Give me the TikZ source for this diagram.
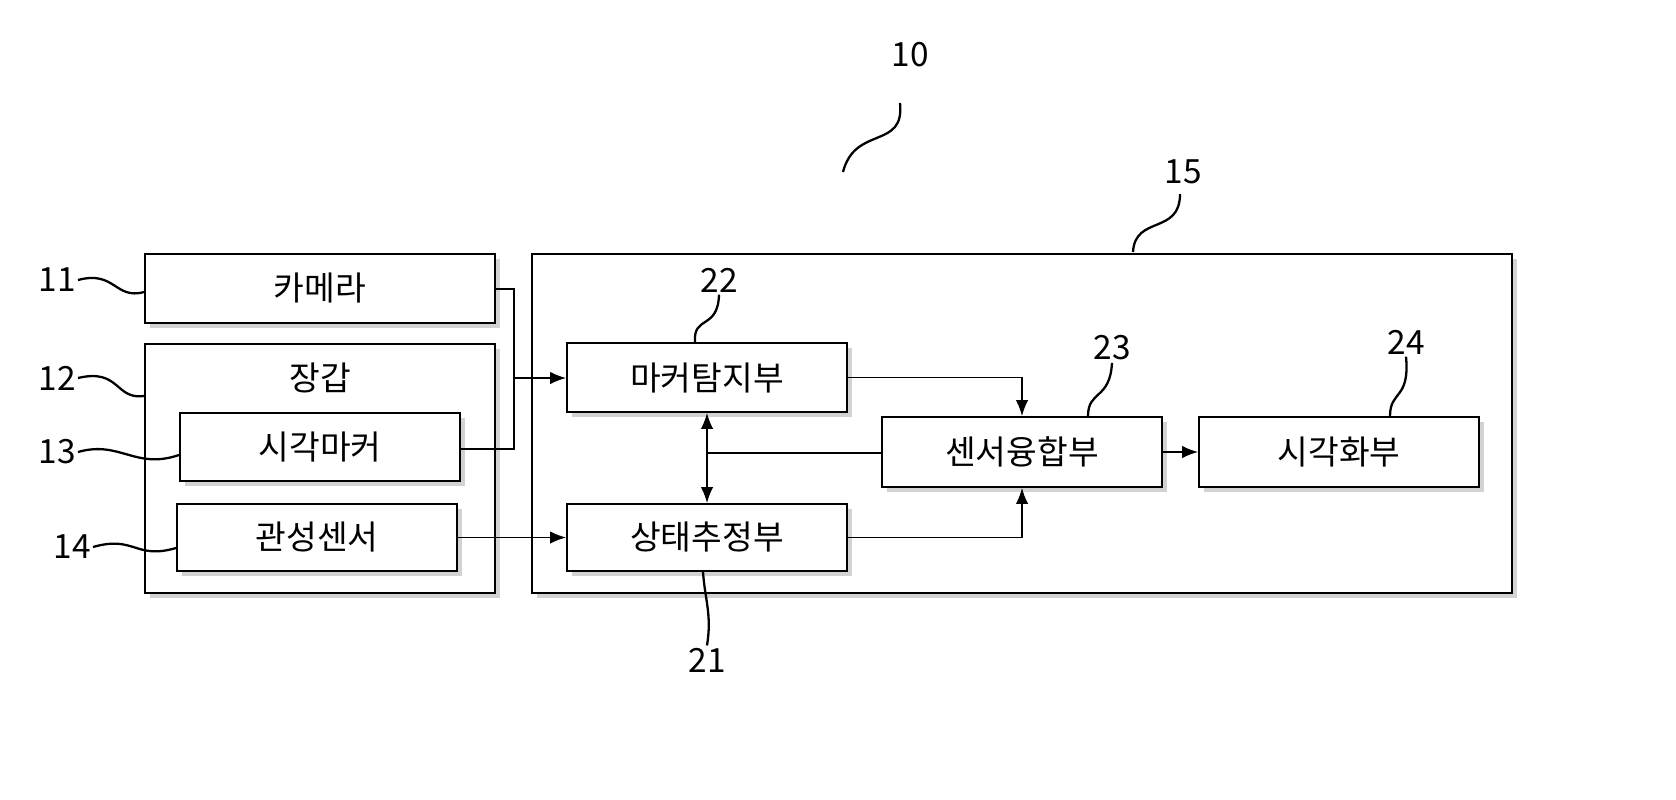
\documentclass[tikz,border=0pt]{standalone}
\usepackage{fontspec}
\setmainfont{Noto Sans CJK KR}
\usetikzlibrary{shadows,arrows.meta}

\begin{document}
\begin{tikzpicture}[x=0.02cm, y=-0.02cm, thick]
\tikzstyle{blockr}=[rectangle, draw=black, fill=white, line width=1.2pt, drop shadow={shadow xshift=3pt, shadow yshift=-3pt, opacity=0.35}, inner sep=0pt, font=\fontsize{19}{22}\selectfont]
\tikzstyle{numlabel}=[inner sep=1pt, font=\fontsize{19}{22}\selectfont]
\tikzstyle{drawstyle}=[line width=0.7pt, -{Latex[length=9pt,width=7pt]}]
\tikzstyle{linestyle}=[line width=0.7pt]
\tikzstyle{leader}=[line width=1.3pt]

\useasboundingbox (0,0) rectangle (1676,799);

% outer boxes
\node[blockr, minimum width=7cm, minimum height=4.98cm] (Glove) at (320,468.5) {};
\node[blockr, minimum width=19.6cm, minimum height=6.78cm] (Unit) at (1022,423.5) {};
\node[font=\fontsize{19}{22}\selectfont] (GloveT) at (320,378) {장갑};

% blocks
\node[blockr, minimum width=7cm, minimum height=1.38cm] (Cam) at (320,288.5) {카메라};
\node[blockr, minimum width=5.6cm, minimum height=1.36cm] (Marker) at (320,447) {시각마커};
\node[blockr, minimum width=5.6cm, minimum height=1.34cm] (Imu) at (317,537.5) {관성센서};
\node[blockr, minimum width=5.6cm, minimum height=1.38cm] (Detect) at (707,377.5) {마커탐지부};
\node[blockr, minimum width=5.6cm, minimum height=1.34cm] (Estim) at (707,537.5) {상태추정부};
\node[blockr, minimum width=5.6cm, minimum height=1.4cm] (Fusion) at (1022,452) {센서융합부};
\node[blockr, minimum width=5.6cm, minimum height=1.4cm] (Vis) at (1339,452) {시각화부};

% connectors
\coordinate (J1) at (514,289);
\coordinate (J2) at (514,449);
\coordinate (J3) at (514,378);
\coordinate (J4) at (707,453);
\draw[linestyle] (Cam.east |- J1) -- (J1) -- (J2) -- (Marker.east |- J2);
\draw[drawstyle] (J3) -- (Detect.west |- J3);
\draw[drawstyle] (Imu.east) -- (Estim.west |- Imu.east);
\draw[drawstyle] (Detect.east) -| (Fusion.north);
\draw[drawstyle] (Estim.east) -| (Fusion.south);
\draw[drawstyle] (Fusion.east) -- (Vis.west);
\draw[linestyle] (Fusion.west |- J4) -- (J4);
\draw[line width=0.7pt, {Latex[length=9pt,width=7pt]}-{Latex[length=9pt,width=7pt]}] (Detect.south) -- (Estim.north);

% reference numerals
\node[numlabel] (L10) at (910,55) {10};
\node[numlabel] (L15) at (1183,172) {15};
\node[numlabel] (L11) at (57,280) {11};
\node[numlabel] (L12) at (57,378) {12};
\node[numlabel] (L13) at (57,452) {13};
\node[numlabel] (L14) at (72,547) {14};
\node[numlabel] (L22) at (719,280) {22};
\node[numlabel] (L23) at (1112,348) {23};
\node[numlabel] (L24) at (1406,342) {24};
\node[numlabel] (L21) at (707,660) {21};

% leaders
\coordinate (P10) at (843,172);
\coordinate (P15) at (1133,252);
\draw[leader] (900,103) .. controls (905,150) and (855,125) .. (P10);
\draw[leader] (1180,194) .. controls (1180,235) and (1135,215) .. (P15);
\draw[leader] (L11.east) .. controls (115,270) and (115,300) .. (Cam.west |- 0,292);
\draw[leader] (L12.east) .. controls (120,368) and (115,400) .. (Glove.west |- 0,396);
\draw[leader] (L13.east) .. controls (120,440) and (135,470) .. (Marker.west |- 0,455);
\draw[leader] (L14.east) .. controls (135,535) and (135,560) .. (Imu.west |- 0,548);
\draw[leader] (L22.south) .. controls (718,330) and (693,315) .. (Detect.north -| 695,0);
\draw[leader] (L23.south) .. controls (1110,400) and (1088,390) .. (Fusion.north -| 1088,0);
\draw[leader] (L24.south) .. controls (1410,400) and (1390,390) .. (Vis.north -| 1390,0);
\draw[leader] (Estim.south -| 703,0) .. controls (705,600) and (712,615) .. (L21.north);
\end{tikzpicture}
\end{document}
